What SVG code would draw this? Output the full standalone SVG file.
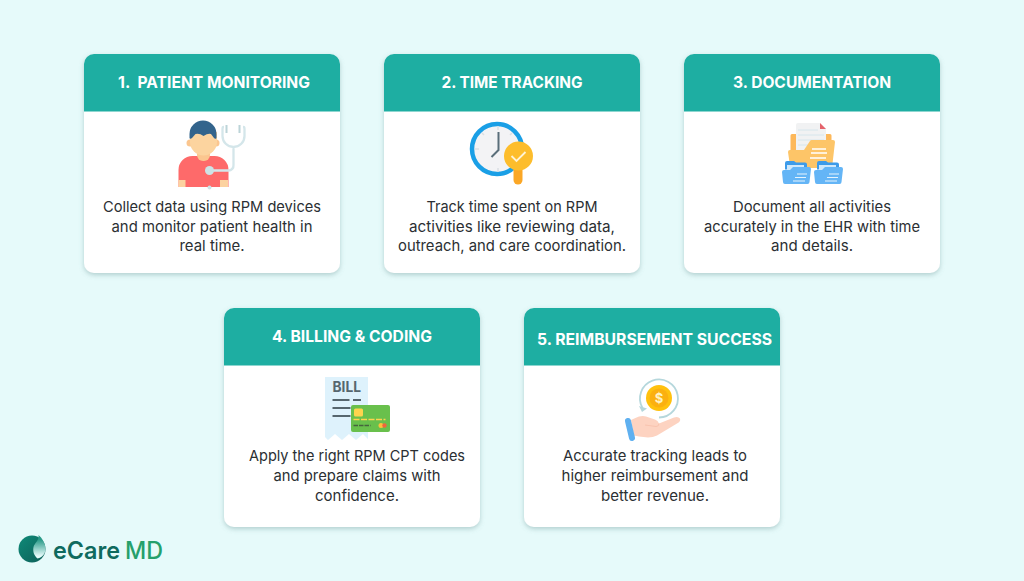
<svg xmlns="http://www.w3.org/2000/svg" width="1024" height="581" viewBox="0 0 1024 581">
<defs>
<filter id="sh" x="-10%" y="-10%" width="120%" height="120%"><feDropShadow dx="0" dy="2" stdDeviation="2.500" flood-color="#5f8f8f" flood-opacity="0.4"/></filter>
<linearGradient id="lg" x1="0" y1="0" x2="1" y2="1"><stop offset="0" stop-color="#0f8a78"/><stop offset="1" stop-color="#0d5f58"/></linearGradient>
<linearGradient id="lf" x1="0" y1="0" x2="0" y2="1"><stop offset="0.2" stop-color="#2a9a88"/><stop offset="0.9" stop-color="#e6fbfb"/></linearGradient>
<g id="card"><rect width="256" height="219" rx="10" fill="#fff" filter="url(#sh)"/><path d="M0 57.500V10a10 10 0 0 1 10-10H246a10 10 0 0 1 10 10V57.500Z" fill="#1eaea2"/></g>
<g id="blue"><path d="M3 3a2 2 0 0 1 2-2h7l2 1.500h9a2 2 0 0 1 2 2v5H3Z" fill="#3d9be9"/><rect x="5" y="5" width="17" height="8" fill="#cfe8fb"/><path d="M0 12a2 2 0 0 1 2-2h6l3-3h16a2 2 0 0 1 2 2l-1.500 13a2 2 0 0 1-2 2H3a2 2 0 0 1-2-2Z" fill="#64b5f6"/><path d="M15 14h10M13 17.500h11M11 21h12" stroke="#e6f4fd" stroke-width="1"/></g>
</defs>
<style>
text{font-family:Inter,"Noto Sans","Liberation Sans",sans-serif}
.h{font-size:16px;font-weight:700;fill:#fff;text-anchor:middle}
.b{font-size:15px;font-weight:400;fill:#2b2f33;text-anchor:middle}
</style>
<rect width="1024" height="581" fill="#e6fafa"/>
<g id="node-1">
<use href="#card" x="84" y="54"/>
<text class="h" x="118" y="88" style="text-anchor:start">1. <tspan x="137.500" textLength="172.500" lengthAdjust="spacingAndGlyphs">PATIENT MONITORING</tspan></text>
<g id="icon-patient">
<path d="M178.500 187v-17a14 14 0 0 1 14-14h22a14 14 0 0 1 14 14v17Z" fill="#fe6a6a"/>
<rect x="178.500" y="180" width="7" height="7" fill="#fcd2a0"/><rect x="220" y="180" width="8" height="7" fill="#fcd2a0"/>
<rect x="197" y="146" width="13" height="15" rx="6" fill="#fbc68f"/>
<circle cx="190" cy="143" r="3.500" fill="#fbc68f"/><circle cx="216" cy="143" r="3.500" fill="#fbc68f"/>
<path d="M190 132h27v10a13.500 13.500 0 0 1-27 0Z" fill="#fcd49f"/>
<path d="M189.500 138v-4a13.500 13.500 0 0 1 27 0v4c0 1-2 1-2.500 0l-3-4q-3-1-7.500 2q-4-3-8-2l-3.500 4c-1 1-2.500 1-2.500 0Z" fill="#33648c"/>
<path d="M224 127h-.500q-1 0-1 2v7a11 11 0 0 0 22 0v-7q0-2-1-2h-.500M233.500 147v18a5 5 0 0 1-5 5.500h-19" fill="none" stroke="#d4e6ea" stroke-width="2.300"/>
<path d="M226.500 125v8M239.500 125v8" stroke="#bcd4d8" stroke-width="2"/>
<circle cx="209.500" cy="170.500" r="4.500" fill="#cde3e6"/><circle cx="209.500" cy="187.500" r="2" fill="#cde3e6"/>
</g>
<text class="b" x="212" y="212" textLength="218" lengthAdjust="spacingAndGlyphs">Collect data using RPM devices</text>
<text class="b" x="212" y="232" textLength="201" lengthAdjust="spacingAndGlyphs">and monitor patient health in</text>
<text class="b" x="212" y="251" textLength="65" lengthAdjust="spacingAndGlyphs">real time.</text>
</g>
<g id="node-2">
<use href="#card" x="384" y="54"/>
<text class="h" x="512" y="88" textLength="141" lengthAdjust="spacingAndGlyphs">2. TIME TRACKING</text>
<g id="icon-clock">
<circle cx="497" cy="149" r="25" fill="#f3f3f5" stroke="#1a9fe6" stroke-width="4.500"/>
<path d="M498 126v4M498 168v4M475 149h4M482 133l2 2M512 133l-2 2" stroke="#dcdfe3" stroke-width="1.500"/>
<path d="M498.500 132v18l-7 7" fill="none" stroke="#5a6e7a" stroke-width="2"/>
<path d="M518 165v15" stroke="#fba726" stroke-width="9" stroke-linecap="round"/>
<circle cx="518.500" cy="156" r="14.500" fill="#fdbd2c"/>
<path d="M511.500 156l5 5 9-9" fill="none" stroke="#fff3d6" stroke-width="1.800"/>
</g>
<text class="b" x="512" y="212" textLength="171" lengthAdjust="spacingAndGlyphs">Track time spent on RPM</text>
<text class="b" x="512" y="232" textLength="206" lengthAdjust="spacingAndGlyphs">activities like reviewing data,</text>
<text class="b" x="512" y="251" textLength="228" lengthAdjust="spacingAndGlyphs">outreach, and care coordination.</text>
</g>
<g id="node-3">
<use href="#card" x="684" y="54"/>
<text class="h" x="812" y="88" textLength="158" lengthAdjust="spacingAndGlyphs">3. DOCUMENTATION</text>
<g id="icon-docs">
<path d="M792 134h4v6h30v-6h4a1.500 1.500 0 0 1 1.500 1.500V165h-41V135.500a1.500 1.500 0 0 1 1.500-1.500Z" fill="#fdb85a"/>
<path d="M796 125a2 2 0 0 1 2-2H820l6 6V165H796Z" fill="#f1f2f3"/>
<path d="M820 123l6 6h-6Z" fill="#e5636b"/>
<path d="M798 130h20M798 135h26M798 140h26M798 145h10" stroke="#d6e6ec" stroke-width="1"/>
<path d="M788 152a2 2 0 0 1 2-2h14l6-9a2 2 0 0 1 2-1h21a2 2 0 0 1 2 2l-3 26H792a2 2 0 0 1-2-2Z" fill="#fdc568"/>
<path d="M812 149h14M811 153h16M810 158h16" stroke="#fff" stroke-width="1.300"/>
<use href="#blue" x="782" y="160"/>
<use href="#blue" x="814" y="160"/>
</g>
<text class="b" x="812" y="212" textLength="158" lengthAdjust="spacingAndGlyphs">Document all activities</text>
<text class="b" x="812" y="232" textLength="216" lengthAdjust="spacingAndGlyphs">accurately in the EHR with time</text>
<text class="b" x="812" y="251" textLength="82" lengthAdjust="spacingAndGlyphs">and details.</text>
</g>
<g id="node-4">
<use href="#card" x="224" y="308"/>
<text class="h" x="352" y="342" textLength="160" lengthAdjust="spacingAndGlyphs">4. BILLING &amp; CODING</text>
<g id="icon-bill">
<path d="M325 377h43v62l-5-5-7 6-7-6-7 6-7-6-7 6-3-3Z" fill="#def2fc"/>
<text x="332.500" y="392" font-size="14.500" font-weight="700" fill="#56666e" textLength="28.500" lengthAdjust="spacingAndGlyphs">BILL</text>
<path d="M332.500 400h17M353 400h8M332.500 408h18M332.500 416h18" stroke="#56666e" stroke-width="2"/>
<rect x="351" y="405" width="39" height="27" rx="2" fill="#69c04c"/>
<rect x="354" y="408.500" width="9" height="8" rx="1.500" fill="#fdd44e"/>
<path d="M353.500 419.500h32" stroke="#fdd44e" stroke-width="1.500" stroke-dasharray="6 1.500"/>
<path d="M353.500 425.500h17" stroke="#46633e" stroke-width="1.500" stroke-dasharray="4.500 1"/>
<circle cx="381" cy="425.500" r="2.500" fill="#fdc13c"/><circle cx="384.500" cy="425.500" r="2.200" fill="#f0663c"/>
</g>
<text class="b" x="357" y="461" textLength="216" lengthAdjust="spacingAndGlyphs">Apply the right RPM CPT codes</text>
<text class="b" x="357" y="481" textLength="167" lengthAdjust="spacingAndGlyphs">and prepare claims with</text>
<text class="b" x="357" y="501" textLength="84" lengthAdjust="spacingAndGlyphs">confidence.</text>
</g>
<g id="node-5">
<use href="#card" x="524" y="308"/>
<text class="h" x="654.500" y="345" textLength="235" lengthAdjust="spacingAndGlyphs">5. REIMBURSEMENT SUCCESS</text>
<g id="icon-coin">
<path d="M642.500 408a19 19 0 1 1 16.500 9.500" fill="none" stroke="#b5d7dc" stroke-width="1.800"/>
<path d="M639 406l3 6 5-3.500Z" fill="#b5d7dc"/>
<circle cx="659" cy="398" r="13" fill="#ffc10e"/><circle cx="659" cy="398" r="9.500" fill="#fbb010"/>
<text x="659" y="403" font-size="13" font-weight="700" fill="#fff3c4" text-anchor="middle">$</text>
<path d="M631 420q6-3 8-3.500 4-1 7 0l9 3q3 1 4 4l15-6q4-1.500 6 1 1 3-3 5l-20 12q-4 2-9 2l-9-1q-4-1-5-.500Z" fill="#fdd3c1"/>
<path d="M645 425l11 1.500q3 0 3-3" fill="none" stroke="#f6bfaa" stroke-width="0.800"/>
<path d="M628 421l4 17" stroke="#5fb0f0" stroke-width="6" stroke-linecap="round"/>
</g>
<text class="b" x="655" y="461" textLength="184" lengthAdjust="spacingAndGlyphs">Accurate tracking leads to</text>
<text class="b" x="655" y="481" textLength="187" lengthAdjust="spacingAndGlyphs">higher reimbursement and</text>
<text class="b" x="655" y="501" textLength="108" lengthAdjust="spacingAndGlyphs">better revenue.</text>
</g>
<g id="logo">
<circle cx="32" cy="549" r="13.500" fill="url(#lg)"/>
<path d="M38.500 535c1 5-4 8-5 12-1 5 1 9 4 11.500 5-1 8-5 8-9.500 0-6-3.500-11-7-14Z" fill="url(#lf)"/>
<text x="53" y="559" font-size="24" font-weight="600" fill="#0f6a5e" textLength="67" lengthAdjust="spacingAndGlyphs">eCare</text>
<text x="125" y="559" font-size="24" font-weight="500" fill="#25a06c" textLength="38" lengthAdjust="spacingAndGlyphs">MD</text>
</g>
</svg>
